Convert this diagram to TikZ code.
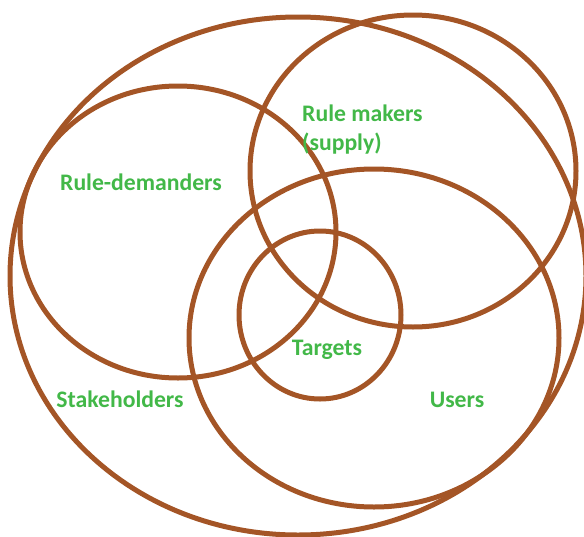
\documentclass[tikz,border=0pt]{standalone}
\usepackage{fontspec}
\setmainfont{Carlito}
\definecolor{ringbrown}{RGB}{164,85,38}
\definecolor{labelgreen}{RGB}{66,184,72}
\tikzset{
  ring/.style={draw=ringbrown,line width=5pt},
  lbl/.style={text=labelgreen,font=\fontsize{23.7}{29}\selectfont\bfseries,inner sep=0pt}
}
\begin{document}
\begin{tikzpicture}[x=1pt,y=-1pt]
    \useasboundingbox (0,0) rectangle (584,536);
    % the rings
    \draw[ring] (298,276) ellipse [x radius=288,y radius=259];
    \draw[ring] (178,232) ellipse [x radius=158,y radius=146];
    \draw[ring] (413,171) ellipse [x radius=163,y radius=156];
    \draw[ring] (374,338) ellipse [x radius=185,y radius=169];
    \draw[ring] (320,315) ellipse [x radius=81,y radius=84];
    % the labels
    \node[lbl,anchor=base west,align=left] (makers) at (302,121) {Rule makers};
    \node[lbl,anchor=base west] (supply) at (302,150) {(supply)};
    \node[lbl,anchor=base] (demanders) at (141,190) {Rule-demanders};
    \node[lbl,anchor=base] (targets) at (327,355) {Targets};
    \node[lbl,anchor=base] (stakeholders) at (120,407) {Stakeholders};
    \node[lbl,anchor=base] (users) at (457,407) {Users};
\end{tikzpicture}
\end{document}
